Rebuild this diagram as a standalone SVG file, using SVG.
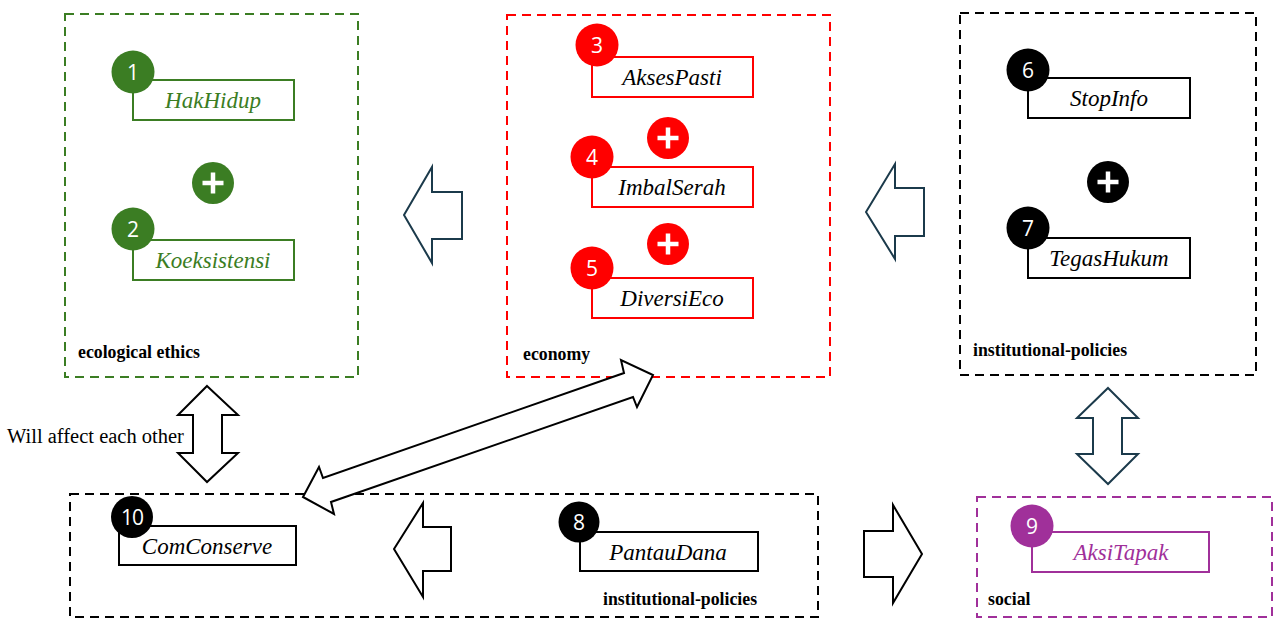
<svg xmlns="http://www.w3.org/2000/svg" width="1274" height="619" viewBox="0 0 1274 619">
<style>
.grp{fill:none;stroke-width:2;stroke-dasharray:9 6}
.box{fill:#fff;stroke-width:2}
.lbl{font-family:'Liberation Serif','Times New Roman',Tinos,'DejaVu Serif',serif;font-style:italic;font-size:23px;text-anchor:middle}
.num{font-family:'Open Sans','Liberation Sans',sans-serif;font-size:21px;fill:#fff;text-anchor:middle}
.gtitle{font-family:'Liberation Serif','Times New Roman',Tinos,'DejaVu Serif',serif;font-weight:bold;font-size:17.8px;fill:#000}
.note{font-family:'Liberation Serif','Times New Roman',Tinos,'DejaVu Serif',serif;font-size:20.5px;fill:#000}
.plus{stroke:#fff;stroke-width:4.5;stroke-linecap:butt}
.arrN{fill:#fff;stroke:#1b3a4b;stroke-width:2;stroke-linejoin:miter}
.arrK{fill:#fff;stroke:#000;stroke-width:2;stroke-linejoin:miter}
.g{fill:#3b7d23}.gs{stroke:#3b7d23}
.r{fill:#ff0000}.rs{stroke:#ff0000}
.k{fill:#000}.ks{stroke:#000}
.p{fill:#a0309a}.ps{stroke:#a0309a}
</style>
<rect width="1274" height="619" fill="#fff"/>

<g id="group-ecological">
<rect class="grp gs" x="65" y="14" width="293" height="363"/>
<text class="gtitle" x="78" y="358">ecological ethics</text>
</g>
<g id="group-economy">
<rect class="grp rs" x="507" y="15" width="323" height="362"/>
<text class="gtitle" x="523" y="360">economy</text>
</g>
<g id="group-institutional-top">
<rect class="grp ks" x="960" y="13" width="296" height="362"/>
<text class="gtitle" x="973" y="356">institutional-policies</text>
</g>
<g id="group-institutional-bottom">
<rect class="grp ks" x="70" y="494" width="748" height="123"/>
<text class="gtitle" x="603" y="605">institutional-policies</text>
</g>
<g id="group-social">
<rect class="grp ps" x="977" y="497" width="295" height="120"/>
<text class="gtitle" x="988" y="605">social</text>
</g>

<g id="node-1">
<rect class="box gs" x="133" y="80" width="161" height="40"/>
<text class="lbl g" x="213" y="108">HakHidup</text>
<circle class="g" cx="133" cy="72" r="21.5"/>
<text class="num" x="133" y="79.5">1</text>
</g>
<g id="plus-green">
<circle class="g" cx="213" cy="183" r="21"/>
<path class="plus" d="M202.5 183H223.5M213 172.5V193.5"/>
</g>
<g id="node-2">
<rect class="box gs" x="133" y="240" width="161" height="40"/>
<text class="lbl g" x="213" y="268">Koeksistensi</text>
<circle class="g" cx="133" cy="229" r="21.5"/>
<text class="num" x="133" y="236.5">2</text>
</g>

<g id="node-3">
<rect class="box rs" x="592" y="57" width="161" height="40"/>
<text class="lbl" x="672" y="85">AksesPasti</text>
<circle class="r" cx="597" cy="45" r="21.5"/>
<text class="num" x="597" y="52.5">3</text>
</g>
<g id="plus-red-1">
<circle class="r" cx="668" cy="138" r="21"/>
<path class="plus" d="M657.5 138H678.5M668 127.5V148.5"/>
</g>
<g id="node-4">
<rect class="box rs" x="592" y="167" width="161" height="40"/>
<text class="lbl" x="672" y="195">ImbalSerah</text>
<circle class="r" cx="592" cy="157" r="21.5"/>
<text class="num" x="592" y="164.5">4</text>
</g>
<g id="plus-red-2">
<circle class="r" cx="668" cy="244" r="21"/>
<path class="plus" d="M657.5 244H678.5M668 233.5V254.5"/>
</g>
<g id="node-5">
<rect class="box rs" x="592" y="278" width="161" height="40"/>
<text class="lbl" x="672" y="306">DiversiEco</text>
<circle class="r" cx="592" cy="268" r="21.5"/>
<text class="num" x="592" y="275.5">5</text>
</g>

<g id="node-6">
<rect class="box ks" x="1028" y="78" width="162" height="40"/>
<text class="lbl" x="1109" y="106">StopInfo</text>
<circle class="k" cx="1028" cy="70" r="21.5"/>
<text class="num" x="1028" y="77.5">6</text>
</g>
<g id="plus-black">
<circle class="k" cx="1108" cy="182" r="21"/>
<path class="plus" d="M1097.5 182H1118.5M1108 171.5V192.5"/>
</g>
<g id="node-7">
<rect class="box ks" x="1028" y="238" width="162" height="40"/>
<text class="lbl" x="1109" y="266">TegasHukum</text>
<circle class="k" cx="1028" cy="228" r="21.5"/>
<text class="num" x="1028" y="235.5">7</text>
</g>

<g id="node-8">
<rect class="box ks" x="580" y="532" width="178" height="39"/>
<text class="lbl" x="668" y="560">PantauDana</text>
<circle class="k" cx="579" cy="522" r="20.5"/>
<text class="num" x="579" y="529.5">8</text>
</g>
<g id="node-9">
<rect class="box ps" x="1032" y="532" width="177" height="40"/>
<text class="lbl p" x="1121" y="560">AksiTapak</text>
<circle class="p" cx="1032" cy="526" r="21.5"/>
<text class="num" x="1032" y="533.5">9</text>
</g>
<g id="node-10">
<rect class="box ks" x="119" y="526" width="177" height="39"/>
<text class="lbl" x="207" y="554">ComConserve</text>
<circle class="k" cx="132" cy="517" r="21"/>
<text class="num" x="132" y="524.5" style="letter-spacing:-1px">10</text>
</g>

<g id="connectors">
<polygon class="arrN" points="404,215 432,167 432,192 462,192 462,239 432,239 432,263"/>
<polygon class="arrN" points="866,212 895,164 895,188 924,188 924,236 895,236 895,259"/>
<polygon class="arrK" points="207,386 238,415 222,415 222,453 238,453 207,482 178,453 193,453 193,415 178,415"/>
<polygon class="arrN" points="1108,388 1138,418 1122,418 1122,454 1138,454 1108,484 1077,454 1093,454 1093,418 1077,418"/>
<polygon class="arrK" points="303,497 319,467 323,478 624,373 621,360 653,375 637,407 633,397 331,502 334,514"/>
<polygon class="arrK" points="394,549 423,503 423,527 451,527 451,571 423,571 423,597"/>
<polygon class="arrK" points="922,554 893,505 893,531 864,531 864,577 893,577 893,603"/>
<text class="note" x="7" y="443">Will affect each other</text>
</g>
</svg>
